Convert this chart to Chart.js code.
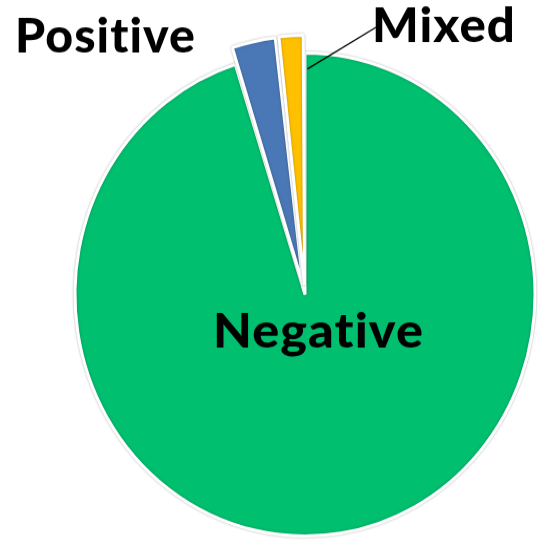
<!DOCTYPE html>
<html>
<head>
<meta charset="utf-8">
<script src="https://cdn.jsdelivr.net/npm/chart.js@4/dist/chart.umd.min.js"></script>
<style>
  html, body { margin: 0; padding: 0; background: #fff; overflow: hidden; }
  #wrap { position: absolute; left: 0; top: 0; width: 538px; height: 522px;
          transform: scaleY(1.05); transform-origin: 0 0; }
</style>
</head>
<body>
<div id="wrap"><canvas id="c"></canvas></div>
<script>
// Data
const categories = ["Negative", "Positive", "Mixed"];
const shares = [95.1, 3.1, 1.8];
const sliceColors = ["#00BF6F", "#4A78B6", "#FFC000"];

function fitText(ctx, text, x, y, w) {
  const mw = ctx.measureText(text).width;
  ctx.save();
  ctx.translate(x, y);
  ctx.scale(w / mw, 1);
  ctx.fillText(text, 0, 0);
  ctx.restore();
}

const labelPlugin = {
  id: "sliceLabels",
  beforeDatasetsDraw(chart) {
    const ctx = chart.ctx;
    ctx.save();
    ctx.shadowColor = "rgba(0,0,0,0.28)";
    ctx.shadowBlur = 2.5;
  },
  afterDatasetsDraw(chart) {
    const ctx = chart.ctx;
    ctx.restore();
    const arcs = chart.getDatasetMeta(0).data;
    ctx.save();
    ctx.fillStyle = "#000";
    ctx.textBaseline = "alphabetic";
    ctx.textAlign = "left";
    ctx.font = "900 45px Lato";
    try { ctx.letterSpacing = "1px"; } catch (e) {}
    // Leader line for Mixed, from the edge of the Mixed slice
    const m = arcs[2];
    const t = chart.data.datasets[0].offset[2] / 4; // Chart.js v4 draws offset/4
    const mid = (m.startAngle + m.endAngle) / 2;
    const ax = m.x + Math.cos(mid) * t, ay = m.y + Math.sin(mid) * t;
    const r = m.outerRadius * 0.895;
    const sx = ax + Math.cos(m.endAngle) * r + 3;
    const sy = ay + Math.sin(m.endAngle) * r;
    ctx.strokeStyle = "#000";
    ctx.lineWidth = 1.3;
    ctx.beginPath();
    ctx.moveTo(sx, sy);
    ctx.lineTo(376, 26);
    ctx.stroke();
    fitText(ctx, categories[1], 15, 50, 181);
    fitText(ctx, categories[2], 372, 40, 144);
    fitText(ctx, categories[0], 213, 331, 211);
    ctx.restore();
  }
};

new Chart(document.getElementById("c"), {
  type: "pie",
  data: {
    labels: categories,
    datasets: [{
      data: shares,
      backgroundColor: sliceColors,
      borderColor: "#ffffff",
      borderWidth: 3,
      offset: [0, 36, 36]
    }]
  },
  options: {
    responsive: true,
    maintainAspectRatio: false,
    animation: false,
    radius: 230,
    layout: { padding: { left: 72, top: 39, right: 0, bottom: 0 } },
    plugins: { legend: { display: false }, tooltip: { enabled: false } }
  },
  plugins: [labelPlugin]
});
</script>
</body>
</html>
